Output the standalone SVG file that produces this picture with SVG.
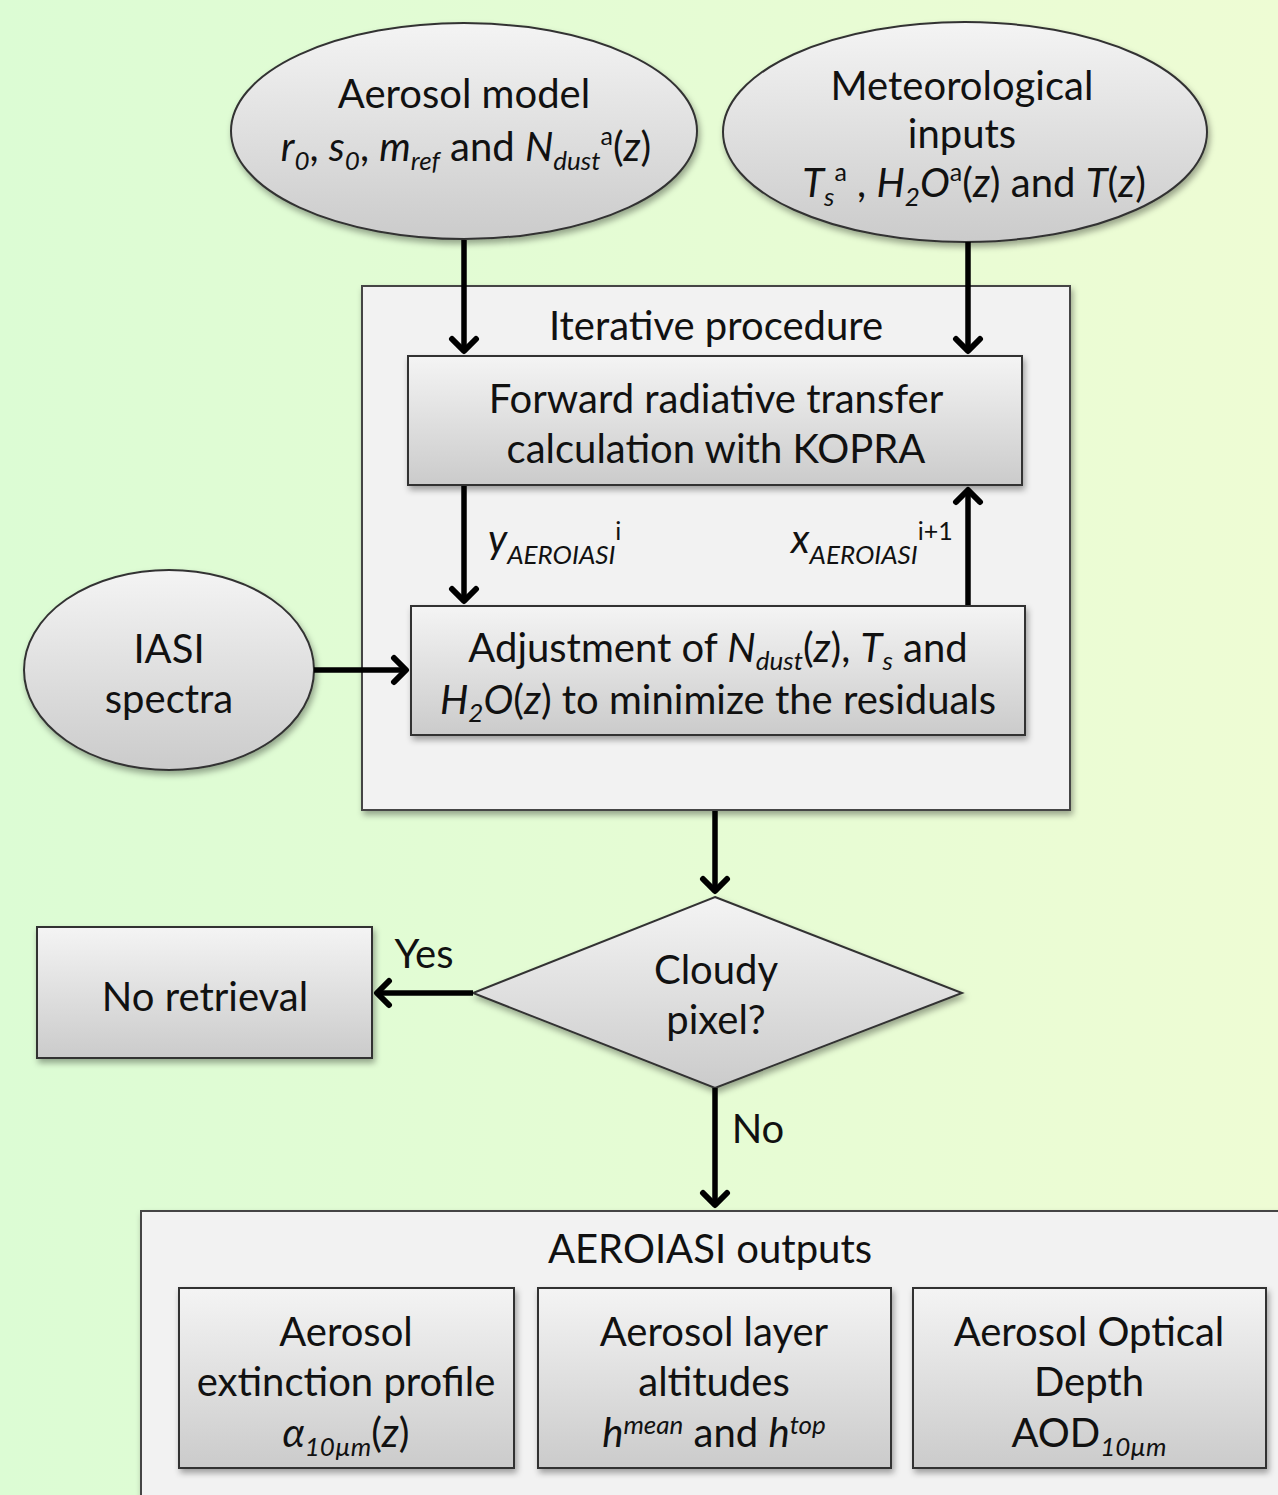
<svg xmlns="http://www.w3.org/2000/svg" width="1278" height="1495" viewBox="0 0 1278 1495">
<defs>
<linearGradient id="bg" x1="0" y1="0" x2="1" y2="0">
<stop offset="0" stop-color="#dcfcd4"/>
<stop offset="1" stop-color="#eefcd4"/>
</linearGradient>
<linearGradient id="node" x1="0" y1="0" x2="0" y2="1">
<stop offset="0" stop-color="#f4f4f4"/>
<stop offset="1" stop-color="#cbcbcb"/>
</linearGradient>
<filter id="sh" x="-10%" y="-10%" width="125%" height="130%">
<feDropShadow dx="2" dy="4" stdDeviation="3" flood-color="#000" flood-opacity="0.35"/>
</filter>
<marker id="ah" markerUnits="userSpaceOnUse" viewBox="-16 -16 32 32" markerWidth="32" markerHeight="32" refX="0" refY="0" orient="auto">
<path d="M-12,-12 L0,0 L-12,12" fill="none" stroke="#000" stroke-width="6" stroke-linecap="round" stroke-linejoin="round"/>
</marker>
</defs>
<style>
text{font-family:"Lato","Open Sans","Liberation Sans",sans-serif;font-size:40px;fill:#111;text-anchor:middle}
.lbl{text-anchor:start}
.i{font-style:italic}
.sub{font-size:26px;font-style:italic}
.sup{font-size:25px}
.shape{fill:url(#node);stroke:#333;stroke-width:2;filter:url(#sh)}
.panel{fill:#f2f2f2;stroke:#444;stroke-width:2;filter:url(#sh)}
.conn{stroke:#000;stroke-width:5.5;fill:none;marker-end:url(#ah)}
</style>
<rect x="0" y="0" width="1278" height="1495" fill="url(#bg)"/>

<g id="iterative-procedure">
<rect class="panel" x="362" y="286" width="708" height="524"/>
<text x="716" y="340">Iterative procedure</text>
</g>

<g id="outputs">
<rect class="panel" x="141" y="1211" width="1150" height="300"/>
<text x="710" y="1263">AEROIASI outputs</text>
</g>

<g id="aerosol-model">
<ellipse class="shape" cx="464" cy="131" rx="233" ry="108"/>
<text x="464" y="108">Aerosol model</text>
<text x="466" y="161"><tspan class="i">r</tspan><tspan class="sub" dy="9">0</tspan><tspan dy="-9">, </tspan><tspan class="i">s</tspan><tspan class="sub" dy="9">0</tspan><tspan dy="-9">, </tspan><tspan class="i">m</tspan><tspan class="sub" dy="9">ref</tspan><tspan dy="-9"> and </tspan><tspan class="i">N</tspan><tspan class="sub" dy="9">dust</tspan><tspan class="sup" dy="-25">a</tspan><tspan dy="16">(</tspan><tspan class="i">z</tspan>)</text>
</g>

<g id="meteorological-inputs">
<ellipse class="shape" cx="965" cy="132" rx="242" ry="110"/>
<text x="962" y="100">Meteorological</text>
<text x="962" y="148">inputs</text>
<text x="974" y="197"><tspan class="i">T</tspan><tspan class="sub" dy="9">s</tspan><tspan class="sup" dy="-25">a</tspan><tspan dy="16"> , </tspan><tspan class="i">H</tspan><tspan class="sub" dy="9">2</tspan><tspan class="i" dy="-9">O</tspan><tspan class="sup" dy="-16">a</tspan><tspan dy="16">(</tspan><tspan class="i">z</tspan>) and <tspan class="i">T</tspan>(<tspan class="i">z</tspan>)</text>
</g>

<g id="forward-rt">
<rect class="shape" x="408" y="356" width="614" height="129"/>
<text x="716" y="413">Forward radiative transfer</text>
<text x="716" y="463">calculation with KOPRA</text>
</g>

<g id="adjustment">
<rect class="shape" x="411" y="606" width="614" height="129"/>
<text x="718" y="662">Adjustment of <tspan class="i">N</tspan><tspan class="sub" dy="8">dust</tspan><tspan dy="-8">(</tspan><tspan class="i">z</tspan>), <tspan class="i">T</tspan><tspan class="sub" dy="8">s</tspan><tspan dy="-8"> and</tspan></text>
<text x="718" y="714"><tspan class="i">H</tspan><tspan class="sub" dy="8">2</tspan><tspan class="i" dy="-8">O</tspan>(<tspan class="i">z</tspan>) to minimize the residuals</text>
</g>

<g id="iasi-spectra">
<ellipse class="shape" cx="169" cy="670" rx="145" ry="100"/>
<text x="169" y="663">IASI</text>
<text x="169" y="713">spectra</text>
</g>

<g id="cloudy-pixel">
<polygon class="shape" points="715,897 962,993 715,1088 473,993"/>
<text x="716" y="984">Cloudy</text>
<text x="716" y="1034">pixel?</text>
</g>

<g id="no-retrieval">
<rect class="shape" x="37" y="927" width="335" height="131"/>
<text x="205" y="1011">No retrieval</text>
</g>

<g id="out-extinction">
<rect class="shape" x="179" y="1288" width="335" height="180"/>
<text x="346" y="1346">Aerosol</text>
<text x="346" y="1396">extinction profile</text>
<text x="346" y="1447"><tspan class="i">α</tspan><tspan class="sub" dy="9">10µm</tspan><tspan dy="-9">(</tspan><tspan class="i">z</tspan>)</text>
</g>

<g id="out-altitudes">
<rect class="shape" x="538" y="1288" width="353" height="180"/>
<text x="714" y="1346">Aerosol layer</text>
<text x="714" y="1396">altitudes</text>
<text x="714" y="1447"><tspan class="i">h</tspan><tspan class="sub" dy="-13">mean</tspan><tspan dy="13"> and </tspan><tspan class="i">h</tspan><tspan class="sub" dy="-13">top</tspan></text>
</g>

<g id="out-aod">
<rect class="shape" x="913" y="1288" width="353" height="180"/>
<text x="1089" y="1346">Aerosol Optical</text>
<text x="1089" y="1396">Depth</text>
<text x="1089" y="1447">AOD<tspan class="sub" dy="9">10µm</tspan></text>
</g>

<g id="connectors">
<line class="conn" x1="464" y1="240" x2="464" y2="351"/>
<line class="conn" x1="968" y1="242" x2="968" y2="351"/>
<line class="conn" x1="464" y1="486" x2="464" y2="601"/>
<line class="conn" x1="968" y1="605" x2="968" y2="490"/>
<line class="conn" x1="314" y1="670" x2="406" y2="670"/>
<line class="conn" x1="715" y1="811" x2="715" y2="891"/>
<line class="conn" x1="473" y1="993" x2="377" y2="993"/>
<line class="conn" x1="715" y1="1088" x2="715" y2="1205"/>
<text class="lbl" x="488" y="553"><tspan class="i">y</tspan><tspan class="sub" dy="11">AEROIASI</tspan><tspan class="sup" dy="-24">i</tspan></text>
<text class="lbl" x="791" y="553"><tspan class="i">x</tspan><tspan class="sub" dy="11">AEROIASI</tspan><tspan class="sup" dy="-24">i+1</tspan></text>
<text x="424" y="968">Yes</text>
<text x="758" y="1143">No</text>
</g>
</svg>
